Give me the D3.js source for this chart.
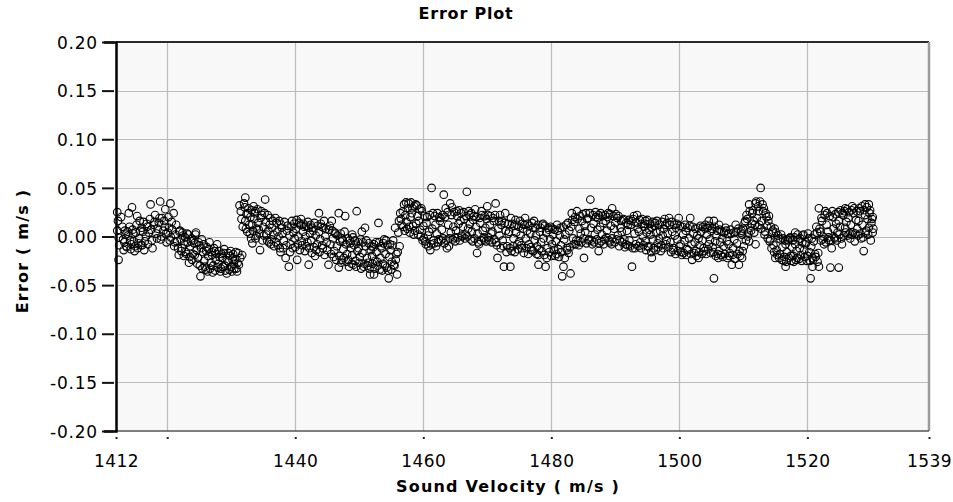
<!DOCTYPE html>
<html>
<head>
<meta charset="utf-8">
<script src="https://cdn.jsdelivr.net/npm/d3@7"></script>
<style>
  html, body { margin: 0; padding: 0; background: #ffffff; }
  svg { display: block; }
  text { font-family: "DejaVu Sans", Verdana, sans-serif; fill: #000; }
</style>
</head>
<body>
<svg id="chart" width="953" height="502"></svg>
<script>
// ---- Chart texts and ticks ----
const title = "Error Plot";
const xLabel = "Sound Velocity ( m/s )";
const yLabel = "Error ( m/s )";
const xDomain = [1412, 1539];
const yDomain = [-0.20, 0.20];
const xTickValues = [1412, 1420, 1440, 1460, 1480, 1500, 1520, 1539];
const xTickLabels = ["1412", "", "1440", "1460", "1480", "1500", "1520", "1539"];
const xGridValues = [1420, 1440, 1460, 1480, 1500, 1520];
const yTickValues = [-0.20, -0.15, -0.10, -0.05, 0.00, 0.05, 0.10, 0.15, 0.20];

// ---- Data: [sound velocity (m/s), error (m/s)] ----
const block1412 = [
[1412.2,0.025],[1412.3,0.016],[1412.2,0.006],[1412.4,-0.001],[1412.5,-0.009],[1412.4,-0.024],[1412.8,0.020],[1413.0,0.010],[1413.1,-0.003],[1413.3,-0.006],
[1413.5,0.002],[1413.6,-0.010],[1413.8,0.005],[1414.0,0.024],[1414.2,-0.004],[1414.4,-0.008],[1414.5,0.030],[1414.7,0.003],[1414.8,-0.005],[1415.0,-0.010],
[1415.2,0.012],[1415.3,0.021],[1415.5,-0.007],[1415.6,-0.002],[1415.8,0.006],[1416.0,0.009],[1416.1,-0.009],[1416.3,0.015],[1416.5,-0.005],[1416.7,0.000],
[1416.9,0.010],[1417.1,0.004],[1417.4,0.033],[1417.5,0.007],[1417.7,-0.012],[1417.9,0.012],[1418.1,0.022],[1418.3,0.003],[1418.5,0.008],[1418.7,0.014],
[1418.9,0.036],[1419.0,-0.003],[1419.2,0.019],[1419.4,0.006],[1419.6,0.010],[1419.7,0.028],[1419.9,-0.006],[1420.1,0.004],[1420.3,0.009],[1420.5,0.034],
[1420.6,-0.001],[1420.8,0.007],[1421.0,0.024],[1421.1,-0.010],[1421.3,0.002],[1421.5,-0.005],[1421.8,-0.019],[1421.9,0.005],[1422.1,-0.003],[1422.3,-0.012],
[1422.5,0.001],[1422.7,-0.008],[1422.9,-0.016],[1423.1,0.003],[1423.2,-0.006],[1423.4,-0.027],[1423.6,-0.010],[1423.8,-0.002],[1424.0,-0.018],[1424.2,-0.007],
[1424.4,0.002],[1424.6,-0.014],[1424.8,-0.022],[1425.0,-0.009],[1425.2,-0.041],[1425.4,-0.003],[1425.6,-0.016],[1425.8,-0.025],[1426.0,-0.034],[1426.2,-0.011],
[1426.4,-0.020],[1426.6,-0.006],[1426.8,-0.027],[1427.0,-0.019],[1427.2,-0.030],[1427.4,-0.015],[1427.6,-0.024],[1427.8,-0.008],[1428.0,-0.028],[1428.2,-0.021],
[1428.4,-0.033],[1428.6,-0.022],[1428.8,-0.017],[1429.0,-0.030],[1429.3,-0.038],[1429.4,-0.025],[1429.6,-0.026],[1429.8,-0.020],[1430.0,-0.031],[1430.2,-0.024],
[1430.4,-0.028],[1430.6,-0.024],[1430.8,-0.033],[1431.0,-0.027],[1431.2,-0.029],[1431.4,-0.022],[1431.7,-0.019],
[1413.2,-0.014],[1413.4,0.006],[1413.7,-0.011],[1413.9,0.001],[1414.1,0.010],[1414.3,-0.013],[1414.6,0.007],[1414.9,-0.015],[1415.1,0.004],[1415.4,-0.012],
[1415.7,0.016],[1415.9,-0.009],[1416.2,0.005],[1416.4,-0.014],[1416.8,0.013],[1417.0,-0.008],[1417.3,0.018],[1417.6,-0.004],[1418.0,0.015],[1418.4,-0.002],
[1418.8,0.019],[1419.1,0.000],[1419.5,0.016],[1419.8,0.003],[1420.2,0.020],[1420.4,-0.004],[1420.7,0.015],[1421.2,-0.006],[1421.4,0.012],[1421.7,-0.012],
[1422.0,0.006],[1422.2,-0.015],[1422.4,0.004],[1422.6,-0.020],[1422.8,-0.001],[1423.0,-0.018],[1423.3,0.002],[1423.5,-0.021],[1423.7,-0.005],[1423.9,-0.024],
[1424.1,-0.004],[1424.3,-0.019],[1424.5,0.004],[1424.7,-0.028],[1424.9,-0.006],[1425.1,-0.030],[1425.3,-0.012],[1425.5,-0.033],[1425.7,-0.008],[1425.9,-0.031],
[1426.1,-0.015],[1426.3,-0.036],[1426.5,-0.013],[1426.7,-0.033],[1426.9,-0.016],[1427.1,-0.037],[1427.3,-0.012],[1427.5,-0.035],[1427.7,-0.018],[1427.9,-0.032],
[1428.1,-0.015],[1428.3,-0.036],[1428.5,-0.018],[1428.7,-0.031],[1428.9,-0.013],[1429.1,-0.035],[1429.5,-0.017],[1429.7,-0.034],[1429.9,-0.015],[1430.1,-0.036],
[1430.3,-0.018],[1430.5,-0.033],[1430.7,-0.016],[1430.9,-0.036],[1431.1,-0.017]
];
const block1432 = [
[1431.3,0.032],[1431.5,0.026],[1431.6,0.018],[1431.8,0.010],[1432.0,0.034],[1432.2,0.040],[1432.2,0.016],[1432.4,0.023],[1432.5,0.005],[1432.7,0.029],
[1432.8,0.012],[1433.0,0.020],[1433.1,-0.002],[1433.3,0.012],[1433.3,-0.007],[1433.5,0.031],[1433.6,0.018],[1433.8,0.026],[1433.8,-0.002],[1434.0,0.008],
[1434.2,0.014],[1434.4,0.003],[1434.5,-0.014],[1434.6,0.019],[1434.8,0.022],[1435.0,0.010],[1435.1,0.001],[1435.3,0.038],[1435.4,0.015],[1435.6,-0.004],
[1435.8,0.006],[1436.0,0.012],[1436.2,-0.008],[1436.4,0.009],[1436.6,0.002],[1436.9,0.019],[1437.0,-0.006],[1437.2,0.005],[1437.4,0.000],[1437.6,-0.012],
[1437.9,0.009],[1438.0,0.003],[1438.2,-0.004],[1438.5,-0.022],[1438.7,0.006],[1439.0,-0.031],[1439.1,0.001],[1439.3,-0.008],[1439.5,0.016],[1439.7,0.004],
[1439.9,-0.002],[1440.1,0.008],[1440.3,-0.024],[1440.5,0.000],[1440.8,0.012],[1441.0,-0.005],[1441.2,0.005],[1441.4,0.010],[1441.6,0.000],[1441.8,-0.010],
[1442.1,0.009],[1442.1,-0.029],[1442.3,0.003],[1442.5,-0.004],[1442.8,0.006],[1443.1,-0.020],[1443.2,0.001],[1443.4,-0.008],[1443.7,0.024],[1443.7,0.005],
[1443.9,-0.003],[1444.1,0.010],[1444.3,-0.012],[1444.5,0.016],[1444.7,0.000],[1444.9,-0.006],[1445.2,-0.029],[1445.3,0.007],[1445.5,-0.008],[1445.7,0.016],
[1445.9,-0.002],[1446.1,-0.015],[1446.3,0.003],[1446.5,-0.010],[1446.8,0.024],[1446.8,-0.032],[1447.0,-0.005],[1447.3,-0.002],[1447.3,-0.024],[1447.5,-0.013],
[1447.8,0.021],[1447.9,-0.008],[1448.1,-0.018],[1448.4,-0.031],[1448.5,-0.004],[1448.7,-0.012],[1448.9,0.002],[1448.9,-0.019],[1449.2,-0.009],[1449.4,-0.025],
[1449.6,0.026],[1449.7,-0.015],[1449.9,-0.012],[1450.1,-0.021],[1450.4,0.005],[1450.5,-0.017],[1450.7,-0.031],[1450.9,0.009],[1451.0,-0.010],[1451.2,-0.022],
[1451.4,-0.027],[1451.7,-0.039],[1451.8,-0.014],
[1432.1,0.030],[1432.3,0.008],[1432.6,0.024],[1432.9,0.003],[1433.2,0.027],[1433.4,0.006],[1433.7,0.024],[1433.9,0.001],[1434.1,0.028],[1434.3,0.007],
[1434.7,0.026],[1434.9,-0.004],[1435.2,0.024],[1435.5,0.002],[1435.7,0.022],[1435.9,-0.006],[1436.1,0.019],[1436.3,-0.003],[1436.5,0.016],[1436.7,-0.010],
[1437.1,0.014],[1437.3,-0.009],[1437.5,0.016],[1437.7,-0.016],[1437.8,0.012],[1438.1,-0.012],[1438.3,0.015],[1438.6,-0.009],[1438.8,0.011],[1439.2,-0.016],
[1439.4,0.010],[1439.6,-0.012],[1439.8,0.013],[1440.0,-0.011],[1440.2,0.017],[1440.4,-0.008],[1440.6,0.014],[1440.7,-0.014],[1440.9,0.018],[1441.1,-0.009],
[1441.3,0.013],[1441.5,-0.015],[1441.7,0.011],[1441.9,-0.006],[1442.0,0.015],[1442.2,-0.012],[1442.4,0.012],[1442.6,-0.017],[1442.7,0.009],[1442.9,-0.011],
[1443.0,0.014],[1443.3,-0.014],[1443.5,0.011],[1443.8,-0.016],[1444.0,0.013],[1444.2,-0.009],[1444.4,0.009],[1444.6,-0.019],[1444.8,0.008],[1445.0,-0.014],
[1445.4,0.011],[1445.6,-0.018],[1445.8,0.006],[1446.0,-0.021],[1446.2,0.004],[1446.4,-0.024],[1446.6,0.001],[1446.9,-0.020],[1447.1,0.003],[1447.2,-0.027],
[1447.4,-0.004],[1447.6,-0.022],[1447.7,0.005],[1448.0,-0.026],[1448.2,-0.002],[1448.3,-0.024],[1448.6,-0.007],[1448.8,-0.028],[1449.0,-0.001],[1449.1,-0.029],
[1449.3,-0.004],[1449.5,-0.031],[1449.8,-0.006],[1450.0,-0.027],[1450.2,-0.003],[1450.3,-0.033],[1450.6,-0.006],[1450.8,-0.028],[1451.1,-0.004],[1451.3,-0.030],
[1451.5,-0.007],[1451.6,-0.033],[1451.9,-0.010]
];
const block1452 = [
[1452.0,-0.020],[1452.3,-0.008],[1452.3,-0.039],[1452.5,-0.025],[1452.7,-0.016],[1452.9,-0.030],[1453.0,0.014],[1453.1,-0.006],[1453.3,-0.022],[1453.5,-0.012],
[1453.7,-0.028],[1453.9,-0.003],[1454.1,-0.018],[1454.3,-0.032],[1454.4,-0.009],[1454.6,-0.043],[1454.7,-0.021],[1454.9,-0.014],[1455.1,-0.026],[1455.3,-0.004],
[1455.5,-0.030],[1455.6,0.009],[1455.8,-0.018],[1455.9,-0.039],[1456.1,0.004],[1456.3,-0.010],[1456.5,0.018],[1456.6,0.012],[1456.8,0.026],[1457.0,0.033],
[1457.1,0.006],[1457.2,0.022],[1457.4,0.015],[1457.6,0.029],[1457.8,0.010],[1458.0,0.020],[1458.2,0.024],[1458.3,0.029],[1458.5,0.002],[1458.8,0.033],
[1458.9,0.013],[1459.1,0.021],[1459.3,0.016],[1459.5,0.007],[1459.8,0.026],[1460.0,0.011],[1460.1,-0.002],[1460.3,-0.005],[1460.5,0.014],[1460.7,0.001],
[1460.9,0.005],[1461.1,-0.014],[1461.3,0.050],[1461.4,0.008],[1461.6,-0.004],[1461.9,0.012],[1462.1,0.003],[1462.4,-0.003],[1462.5,0.020],[1462.7,0.019],
[1462.9,0.007],[1463.2,0.043],[1463.3,-0.007],[1463.5,0.029],[1463.7,-0.012],[1463.9,0.012],[1464.0,-0.010],[1464.2,0.034],[1464.3,0.004],[1464.5,0.030],
[1464.7,0.010],[1465.0,-0.005],[1465.1,0.006],[1465.3,0.021],[1465.5,0.013],[1465.8,0.016],[1466.0,0.001],[1466.2,0.010],[1466.4,0.018],[1466.6,0.002],
[1466.8,0.046],[1467.0,0.008],[1467.1,0.026],[1467.3,0.013],[1467.6,0.005],[1467.8,0.017],[1468.1,0.028],[1468.2,0.010],[1468.4,-0.017],[1468.5,0.003],
[1468.7,-0.008],[1468.9,0.014],[1469.2,0.022],[1469.3,0.006],[1469.5,-0.003],[1469.7,0.009],[1469.9,0.018],[1470.0,0.031],[1470.2,-0.001],[1470.4,0.012],
[1470.6,0.003],[1470.8,0.005],[1471.0,0.016],[1471.3,0.034],[1471.4,-0.006],[1471.6,-0.022],[1471.7,0.008],[1471.9,0.001],
[1452.1,-0.028],[1452.2,-0.011],[1452.4,-0.033],[1452.6,-0.006],[1452.8,-0.026],[1453.2,-0.034],[1453.4,-0.010],[1453.6,-0.035],[1453.8,-0.007],[1454.0,-0.030],
[1454.2,-0.004],[1454.5,-0.035],[1454.8,-0.008],[1455.0,-0.034],[1455.2,-0.009],[1455.4,-0.029],[1455.7,-0.024],[1456.0,-0.016],[1456.2,0.016],[1456.4,0.024],
[1456.9,0.010],[1457.3,0.035],[1457.5,0.008],[1457.7,0.034],[1457.9,0.004],[1458.1,0.035],[1458.4,0.011],[1458.6,0.031],[1458.7,0.006],[1459.0,0.032],
[1459.2,0.002],[1459.4,0.028],[1459.6,0.000],[1459.7,0.029],[1459.9,-0.004],[1460.2,0.021],[1460.4,-0.008],[1460.6,0.020],[1460.8,-0.010],[1461.0,0.022],
[1461.2,-0.008],[1461.5,0.024],[1461.7,-0.007],[1461.8,0.021],[1462.0,-0.010],[1462.2,0.024],[1462.3,-0.006],[1462.6,0.016],[1462.8,-0.004],[1463.0,0.022],
[1463.1,-0.002],[1463.4,0.020],[1463.6,-0.004],[1463.8,0.025],[1464.1,-0.002],[1464.4,0.022],[1464.6,-0.003],[1464.8,0.025],[1464.9,-0.001],[1465.2,0.026],
[1465.4,-0.001],[1465.6,0.027],[1465.7,-0.004],[1465.9,0.024],[1466.1,0.000],[1466.3,0.025],[1466.5,-0.002],[1466.7,0.021],[1466.9,0.000],[1467.2,0.022],
[1467.4,-0.003],[1467.5,0.024],[1467.7,-0.005],[1467.9,0.021],[1468.0,-0.002],[1468.3,0.020],[1468.6,-0.006],[1468.8,0.019],[1469.0,-0.004],[1469.1,0.026],
[1469.4,-0.001],[1469.6,0.021],[1469.8,-0.005],[1470.1,0.022],[1470.3,-0.004],[1470.5,0.021],[1470.7,-0.006],[1470.9,0.019],[1471.1,-0.003],[1471.2,0.022],
[1471.5,-0.009],[1471.8,0.016]
];
const block1472 = [
[1472.0,0.022],[1472.2,0.012],[1472.4,-0.004],[1472.6,-0.031],[1472.8,0.024],[1472.9,0.006],[1473.1,-0.010],[1473.3,0.003],[1473.4,0.005],[1473.6,-0.031],
[1473.8,-0.015],[1473.9,0.013],[1474.1,-0.002],[1474.4,0.017],[1474.5,0.004],[1474.7,-0.008],[1474.9,0.010],[1475.0,-0.005],[1475.2,0.001],[1475.4,-0.012],
[1475.6,0.008],[1475.9,0.019],[1476.0,-0.002],[1476.2,0.006],[1476.5,-0.008],[1476.7,0.003],[1476.9,-0.014],[1477.1,0.009],[1477.3,0.016],[1477.4,-0.004],
[1477.6,0.001],[1477.8,-0.010],[1478.0,-0.019],[1478.0,-0.029],[1478.2,0.005],[1478.4,-0.006],[1478.6,0.012],[1478.8,-0.002],[1479.1,-0.031],[1479.2,0.004],
[1479.4,-0.012],[1479.6,0.007],[1479.8,-0.003],[1480.1,-0.008],[1480.3,0.002],[1480.6,-0.020],[1480.7,-0.005],[1480.9,0.012],[1481.1,-0.013],[1481.3,0.001],
[1481.5,-0.009],[1481.7,-0.041],[1481.9,-0.031],[1482.0,-0.003],[1482.2,0.002],[1482.4,-0.012],[1482.7,-0.017],[1482.8,0.006],[1483.0,-0.038],[1483.1,0.010],
[1483.2,0.024],[1483.4,-0.002],[1483.6,0.015],[1483.8,-0.008],[1484.0,0.026],[1484.2,-0.005],[1484.4,0.008],[1484.6,0.003],[1484.8,0.016],[1485.1,-0.022],
[1485.2,0.011],[1485.3,0.005],[1485.6,0.018],[1485.8,-0.004],[1486.1,0.038],[1486.2,0.009],[1486.4,-0.008],[1486.6,0.013],[1486.8,0.002],[1487.0,0.020],
[1487.2,0.007],[1487.4,0.022],[1487.4,-0.015],[1487.6,0.010],[1487.9,0.002],[1488.1,0.014],[1488.3,-0.003],[1488.5,0.016],[1488.7,0.006],[1488.9,0.024],
[1489.1,-0.006],[1489.3,0.011],[1489.5,0.029],[1489.5,-0.002],[1489.8,0.008],[1490.0,0.014],[1490.3,0.019],[1490.4,0.001],[1490.6,-0.010],[1490.8,0.009],
[1491.0,0.005],[1491.2,0.017],[1491.4,-0.003],[1491.6,-0.008],[1491.8,0.006],
[1472.1,-0.012],[1472.3,0.016],[1472.5,-0.010],[1472.7,0.014],[1473.0,-0.016],[1473.2,0.013],[1473.5,-0.012],[1473.7,0.019],[1474.0,-0.010],[1474.2,0.011],
[1474.3,-0.016],[1474.6,0.012],[1474.8,-0.013],[1475.1,0.016],[1475.3,-0.009],[1475.5,0.013],[1475.7,-0.017],[1475.8,0.012],[1476.1,-0.012],[1476.3,0.013],
[1476.4,-0.018],[1476.6,0.011],[1476.8,-0.011],[1477.0,0.014],[1477.2,-0.015],[1477.5,0.009],[1477.7,-0.018],[1477.9,0.012],[1478.1,-0.013],[1478.3,0.009],
[1478.5,-0.015],[1478.7,0.013],[1478.9,-0.019],[1479.0,0.011],[1479.3,-0.022],[1479.5,0.009],[1479.7,-0.016],[1479.9,0.010],[1480.0,-0.020],[1480.2,0.008],
[1480.4,-0.014],[1480.5,0.007],[1480.8,-0.018],[1481.0,0.006],[1481.2,-0.021],[1481.4,0.009],[1481.6,-0.016],[1481.8,0.010],[1482.1,-0.022],[1482.3,0.012],
[1482.5,-0.014],[1482.6,0.014],[1482.9,-0.011],[1483.3,0.017],[1483.5,-0.008],[1483.7,0.020],[1483.9,-0.004],[1484.1,0.018],[1484.3,-0.009],[1484.5,0.021],
[1484.7,-0.006],[1484.9,0.023],[1485.0,-0.002],[1485.4,0.024],[1485.5,-0.007],[1485.7,0.019],[1485.9,-0.003],[1486.0,0.024],[1486.3,-0.004],[1486.5,0.022],
[1486.7,-0.006],[1486.9,0.025],[1487.1,-0.003],[1487.3,0.019],[1487.5,-0.007],[1487.7,0.024],[1487.8,-0.005],[1488.0,0.021],[1488.2,-0.008],[1488.4,0.022],
[1488.6,-0.001],[1488.8,0.020],[1489.0,-0.004],[1489.2,0.023],[1489.4,-0.008],[1489.7,0.021],[1489.9,-0.006],[1490.1,0.023],[1490.2,-0.003],[1490.5,0.021],
[1490.7,-0.004],[1490.9,0.016],[1491.1,-0.006],[1491.3,0.018],[1491.5,-0.011],[1491.7,0.014],[1491.9,-0.009]
];
const block1492 = [
[1492.0,0.012],[1492.2,-0.004],[1492.4,0.012],[1492.6,-0.031],[1492.9,0.021],[1493.0,0.003],[1493.1,-0.012],[1493.4,0.022],[1493.5,0.008],[1493.7,0.005],
[1493.9,-0.006],[1494.1,0.013],[1494.3,0.000],[1494.5,0.010],[1494.7,0.016],[1494.7,-0.005],[1494.9,0.004],[1495.1,-0.010],[1495.3,0.007],[1495.5,0.002],
[1495.7,0.009],[1495.7,-0.022],[1495.9,-0.003],[1496.1,0.011],[1496.4,0.004],[1496.6,-0.007],[1496.8,-0.002],[1497.0,0.006],[1497.2,-0.009],[1497.4,0.001],
[1497.6,0.008],[1497.8,0.012],[1498.0,-0.004],[1498.2,0.003],[1498.4,0.019],[1498.6,-0.006],[1498.9,0.005],[1499.1,-0.012],[1499.3,0.001],[1499.5,0.009],
[1499.7,-0.003],[1499.9,0.019],[1500.0,-0.010],[1500.2,-0.008],[1500.4,-0.019],[1500.6,0.002],[1500.8,-0.004],[1501.0,0.006],[1501.2,-0.013],[1501.5,-0.002],
[1501.7,0.019],[1501.9,-0.008],[1502.0,-0.024],[1502.2,0.003],[1502.4,-0.006],[1502.6,-0.015],[1502.8,0.001],[1503.0,-0.022],[1503.0,-0.002],[1503.2,-0.009],
[1503.4,0.005],[1503.6,-0.004],[1503.8,-0.012],[1504.0,0.008],[1504.3,0.002],[1504.6,0.016],[1504.6,-0.008],[1504.8,-0.003],[1505.0,0.006],[1505.2,-0.011],
[1505.4,0.016],[1505.4,-0.043],[1505.6,-0.005],[1505.8,0.001],[1506.0,-0.018],[1506.2,0.012],[1506.2,-0.015],[1506.4,-0.006],[1506.7,-0.002],[1506.9,-0.010],
[1507.2,0.009],[1507.4,-0.005],[1507.7,-0.008],[1507.9,-0.017],[1508.1,0.003],[1508.2,-0.029],[1508.4,-0.012],[1508.6,-0.003],[1508.8,0.012],[1509.0,-0.007],
[1509.3,-0.029],[1509.4,-0.015],[1509.6,0.004],[1509.8,-0.022],[1509.8,0.002],[1510.0,0.008],[1510.1,-0.010],[1510.3,0.016],[1510.5,0.022],[1510.7,0.000],
[1510.9,0.033],[1510.9,-0.005],[1511.1,0.009],[1511.3,0.013],[1511.5,0.027],[1511.7,0.004],[1511.9,0.034],[1511.9,-0.008],
[1492.1,0.017],[1492.3,-0.010],[1492.5,0.016],[1492.7,-0.012],[1492.8,0.018],[1493.2,-0.008],[1493.3,0.014],[1493.6,-0.010],[1493.8,0.017],[1494.0,-0.012],
[1494.2,0.018],[1494.4,-0.009],[1494.6,0.013],[1494.8,-0.014],[1495.0,0.017],[1495.2,-0.011],[1495.4,0.013],[1495.6,-0.016],[1495.8,0.015],[1496.0,-0.012],
[1496.2,0.014],[1496.3,-0.014],[1496.5,0.016],[1496.7,-0.011],[1496.9,0.012],[1497.1,-0.015],[1497.3,0.015],[1497.5,-0.012],[1497.7,0.018],[1497.9,-0.008],
[1498.1,0.014],[1498.3,-0.011],[1498.5,0.012],[1498.7,-0.016],[1498.8,0.015],[1499.0,-0.014],[1499.2,0.012],[1499.4,-0.018],[1499.6,0.013],[1499.8,-0.015],
[1500.1,0.011],[1500.3,-0.016],[1500.5,0.010],[1500.7,-0.017],[1500.9,0.012],[1501.1,-0.019],[1501.3,0.009],[1501.4,-0.014],[1501.6,0.011],[1501.8,-0.018],
[1502.1,0.010],[1502.3,-0.017],[1502.5,0.008],[1502.7,-0.020],[1502.9,0.009],[1503.1,-0.016],[1503.3,0.011],[1503.5,-0.018],[1503.7,0.010],[1503.9,-0.015],
[1504.1,0.012],[1504.2,-0.018],[1504.4,0.009],[1504.5,-0.013],[1504.7,0.011],[1504.9,-0.017],[1505.1,0.008],[1505.3,-0.016],[1505.5,0.010],[1505.7,-0.020],
[1505.9,0.006],[1506.1,-0.022],[1506.3,0.007],[1506.5,-0.019],[1506.6,0.005],[1506.8,-0.021],[1507.0,0.004],[1507.1,-0.018],[1507.3,0.006],[1507.5,-0.022],
[1507.6,0.003],[1507.8,-0.020],[1508.0,0.007],[1508.3,-0.019],[1508.5,0.004],[1508.7,-0.023],[1508.9,0.005],[1509.1,-0.018],[1509.2,0.008],[1509.5,-0.020],
[1509.7,0.006],[1509.9,-0.015],[1510.2,0.014],[1510.4,-0.004],[1510.6,0.018],[1510.8,0.004],[1511.0,0.026],[1511.2,0.006],[1511.4,0.024],[1511.6,0.016],
[1511.8,0.012]
];
const block1512 = [
[1512.1,0.019],[1512.4,0.026],[1512.7,0.050],[1512.9,0.016],[1513.0,0.033],[1513.2,0.029],[1513.4,0.005],[1513.5,0.024],[1513.7,0.011],[1514.0,0.021],
[1514.2,-0.003],[1514.5,0.004],[1514.7,-0.009],[1514.9,0.008],[1515.0,-0.022],[1515.2,-0.014],[1515.5,-0.002],[1515.7,-0.018],[1515.9,0.002],[1516.1,-0.011],
[1516.3,-0.025],[1516.6,-0.031],[1516.6,-0.008],[1516.8,-0.016],[1517.0,-0.004],[1517.2,-0.002],[1517.4,-0.020],[1517.6,-0.011],[1517.9,-0.026],[1518.1,0.004],
[1518.1,-0.008],[1518.3,-0.015],[1518.4,-0.022],[1518.6,-0.003],[1518.8,-0.012],[1519.0,-0.019],[1519.2,-0.006],[1519.4,0.002],[1519.5,-0.014],[1519.7,-0.008],
[1519.9,-0.025],[1520.2,-0.002],[1520.3,-0.016],[1520.5,-0.043],[1520.6,-0.010],[1520.8,-0.022],[1520.8,-0.031],[1521.0,-0.005],[1521.2,-0.018],[1521.4,0.010],
[1521.6,-0.026],[1521.8,0.029],[1521.8,-0.031],[1522.0,0.005],[1522.3,0.016],[1522.5,0.000],[1522.6,-0.008],[1522.8,0.026],[1523.0,0.012],[1523.2,0.005],
[1523.4,-0.004],[1523.6,-0.032],[1523.8,-0.012],[1524.0,0.020],[1524.1,0.008],[1524.3,-0.002],[1524.5,0.013],[1524.7,0.004],[1524.9,0.016],[1524.9,-0.032],
[1525.1,0.010],[1525.4,-0.008],[1525.6,0.022],[1525.9,0.029],[1525.9,0.009],[1526.1,0.015],[1526.4,0.019],[1526.6,0.003],[1526.8,0.012],[1527.0,0.031],
[1527.0,0.002],[1527.2,0.024],[1527.4,-0.005],[1527.6,0.017],[1527.8,0.008],[1528.0,0.016],[1528.2,0.026],[1528.4,-0.002],[1528.6,0.012],[1528.8,-0.015],
[1529.0,0.033],[1529.0,0.022],[1529.2,0.006],[1529.4,0.018],[1529.6,0.033],[1529.6,0.009],[1529.8,0.027],[1530.0,0.014],[1530.2,0.020],[1530.2,0.004],
[1512.0,0.036],[1512.2,0.010],[1512.3,0.031],[1512.5,0.012],[1512.6,0.036],[1512.8,0.008],[1513.1,0.026],[1513.3,0.002],[1513.6,0.020],[1513.8,-0.002],
[1513.9,0.016],[1514.1,-0.005],[1514.3,0.010],[1514.4,-0.012],[1514.6,0.006],[1514.8,-0.016],[1515.1,0.004],[1515.3,-0.019],[1515.4,0.001],[1515.6,-0.022],
[1515.8,-0.003],[1516.0,-0.024],[1516.2,-0.002],[1516.4,-0.021],[1516.5,-0.004],[1516.7,-0.026],[1516.9,-0.003],[1517.1,-0.022],[1517.3,-0.001],[1517.5,-0.025],
[1517.7,-0.004],[1517.8,-0.020],[1518.0,-0.001],[1518.2,-0.024],[1518.5,0.002],[1518.7,-0.023],[1518.9,-0.002],[1519.1,-0.025],[1519.3,0.001],[1519.6,-0.021],
[1519.8,-0.006],[1520.0,-0.020],[1520.1,0.003],[1520.4,-0.025],[1520.7,-0.002],[1520.9,-0.024],[1521.1,0.002],[1521.3,-0.021],[1521.5,0.004],[1521.7,-0.017],
[1521.9,0.008],[1522.1,-0.004],[1522.2,0.019],[1522.4,-0.003],[1522.7,0.022],[1522.9,-0.006],[1523.1,0.024],[1523.3,-0.001],[1523.5,0.021],[1523.7,-0.004],
[1523.9,0.026],[1524.2,-0.001],[1524.4,0.023],[1524.6,-0.004],[1524.8,0.025],[1525.0,0.002],[1525.2,0.027],[1525.3,-0.002],[1525.5,0.024],[1525.7,0.001],
[1525.8,0.026],[1526.0,0.004],[1526.2,0.028],[1526.3,0.001],[1526.5,0.025],[1526.7,-0.002],[1526.9,0.027],[1527.1,0.004],[1527.3,0.029],[1527.5,0.003],
[1527.7,0.026],[1527.9,0.001],[1528.1,0.029],[1528.3,0.003],[1528.5,0.031],[1528.7,-0.001],[1528.9,0.027],[1529.1,0.004],[1529.3,0.030],[1529.5,0.002],
[1529.7,0.024],[1529.9,-0.004],[1530.1,0.018],[1530.3,0.008]
];

const points = [].concat(block1412, block1432, block1452, block1472, block1492, block1512);

// ---- Layout ----
const svg = d3.select("#chart");
const plot = { left: 116, right: 929, top: 42, bottom: 431 };

const x = d3.scaleLinear().domain(xDomain).range([plot.left, plot.right]);
const y = d3.scaleLinear().domain(yDomain).range([plot.bottom, plot.top]);

// plot background
svg.append("rect")
  .attr("x", plot.left).attr("y", plot.top)
  .attr("width", plot.right - plot.left).attr("height", plot.bottom - plot.top)
  .attr("fill", "#f8f8f8");

// grid
svg.append("g").selectAll("line").data(xGridValues).join("line")
  .attr("x1", d => Math.round(x(d)) + 0.5).attr("x2", d => Math.round(x(d)) + 0.5)
  .attr("y1", plot.top).attr("y2", plot.bottom)
  .attr("stroke", "#bcbcbc").attr("stroke-width", 1.2);
svg.append("g").selectAll("line").data(yTickValues.filter(v => Math.abs(v) < 0.199)).join("line")
  .attr("x1", plot.left).attr("x2", plot.right)
  .attr("y1", d => Math.round(y(d)) + 0.5).attr("y2", d => Math.round(y(d)) + 0.5)
  .attr("stroke", "#bcbcbc").attr("stroke-width", 1.2);

// frame
svg.append("line").attr("x1", plot.left).attr("x2", plot.right).attr("y1", plot.top).attr("y2", plot.top)
  .attr("stroke", "#2a2a2a").attr("stroke-width", 2);
svg.append("line").attr("x1", plot.right).attr("x2", plot.right).attr("y1", plot.top).attr("y2", plot.bottom)
  .attr("stroke", "#9a9a9a").attr("stroke-width", 2.5);
svg.append("line").attr("x1", plot.left).attr("x2", plot.right).attr("y1", plot.bottom).attr("y2", plot.bottom)
  .attr("stroke", "#555").attr("stroke-width", 1.5);

// points
svg.append("g").selectAll("circle").data(points).join("circle")
  .attr("cx", d => x(d[0]))
  .attr("cy", d => y(d[1]))
  .attr("r", 3.8)
  .attr("fill", "none")
  .attr("stroke", "#000")
  .attr("stroke-width", 1.1);

// Y axis
const yAxis = d3.axisLeft(y)
  .tickValues(yTickValues)
  .tickSize(12)
  .tickPadding(5)
  .tickFormat(d => d.toFixed(2));
const gy = svg.append("g").attr("transform", `translate(${plot.left},0)`).call(yAxis);
gy.select(".domain").attr("stroke", "#000").attr("stroke-width", 2.5);
gy.selectAll(".tick line").attr("stroke", "#111").attr("stroke-width", 2).attr("x2", -14).attr("x1", -2);
gy.selectAll(".tick text")
  .style("font-family", "'DejaVu Sans', sans-serif")
  .style("font-size", "17px")
  .style("letter-spacing", "0.8px")
  .attr("x", -18)
  .attr("dy", "0.36em");

// X axis (dots as ticks)
const xAxis = d3.axisBottom(x)
  .tickValues(xTickValues)
  .tickSize(0)
  .tickPadding(24)
  .tickFormat((d, i) => xTickLabels[i]);
const gx = svg.append("g").attr("transform", `translate(0,${plot.bottom})`).call(xAxis);
gx.select(".domain").remove();
gx.selectAll(".tick").append("rect")
  .attr("x", -1).attr("y", 6).attr("width", 2).attr("height", 2).attr("fill", "#222");
gx.selectAll(".tick text")
  .style("font-family", "'DejaVu Sans', sans-serif")
  .style("font-size", "17px")
  .style("letter-spacing", "0.5px")
  .attr("dy", "0.71em");

// Title
svg.append("text")
  .attr("x", 466).attr("y", 19)
  .attr("text-anchor", "middle")
  .style("font-size", "16px").style("font-weight", "bold").style("letter-spacing", "0.8px")
  .text(title);

// X label
svg.append("text")
  .attr("x", 508).attr("y", 492)
  .attr("text-anchor", "middle")
  .style("font-size", "16px").style("font-weight", "bold").style("letter-spacing", "1.2px")
  .text(xLabel);

// Y label
svg.append("text")
  .attr("transform", "translate(28,251) rotate(-90)")
  .attr("text-anchor", "middle")
  .style("font-size", "16px").style("font-weight", "bold").style("letter-spacing", "1.2px")
  .text(yLabel);
</script>
</body>
</html>
